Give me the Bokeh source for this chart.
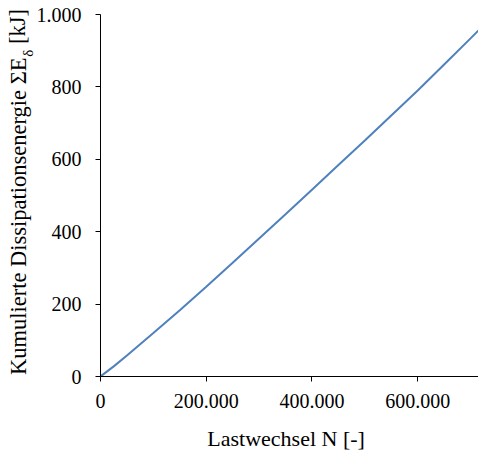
from bokeh.plotting import figure
from bokeh.models import FixedTicker, CustomJSTickFormatter, LinearAxis, ColumnDataSource
from bokeh.embed import file_html
from bokeh.resources import INLINE

# Data
lastwechsel = [0, 25000, 50000, 100000, 150000, 200000, 250000, 300000, 350000,
               400000, 450000, 500000, 550000, 600000, 650000, 700000, 715000]
energie = [0, 28, 58, 120, 183, 248, 314, 381, 448,
           516, 584, 652, 721, 790, 862, 934, 956]

x_ticks = [0, 200000, 400000, 600000]
y_ticks = [0, 200, 400, 600, 800, 1000]

x_label = "Lastwechsel N [-]"
y_label_main = "Kumulierte Dissipationsenergie \u03a3E"
y_label_sub = "\u03b4"
y_label_end = "[kJ]"

FONT = "Liberation Serif"

p = figure(width=478, height=457, x_range=(0, 715000), y_range=(0, 1000),
           output_backend="svg", toolbar_location=None,
           min_border_left=100, min_border_right=0, min_border_top=14, min_border_bottom=81)

p.outline_line_color = None
p.xgrid.grid_line_color = None
p.ygrid.grid_line_color = None
p.background_fill_color = "white"
p.border_fill_color = "white"

src = ColumnDataSource(data=dict(n=lastwechsel, e=energie))
p.line("n", "e", source=src, line_color="#4F81BD", line_width=2)

fmt = CustomJSTickFormatter(code="""
return Math.round(tick).toString().replace(/\\B(?=(\\d{3})+(?!\\d))/g, '.');
""")

for ax, ticks in ((p.xaxis[0], x_ticks), (p.yaxis[0], y_ticks)):
    ax.ticker = FixedTicker(ticks=ticks)
    ax.formatter = fmt
    ax.axis_line_color = "black"
    ax.axis_line_width = 1
    ax.major_tick_line_color = "black"
    ax.major_tick_in = 0
    ax.major_tick_out = 5
    ax.minor_tick_line_color = None
    ax.major_label_text_font = FONT
    ax.major_label_text_font_size = "20px"
    ax.major_label_text_color = "black"

p.yaxis[0].major_label_standoff = 14
p.xaxis[0].major_label_standoff = 12


def text_axis(ticks, code, args, size, standoff, side, orientation):
    ax = LinearAxis(ticker=FixedTicker(ticks=ticks),
                    formatter=CustomJSTickFormatter(args=args, code=code))
    ax.axis_line_color = None
    ax.major_tick_line_color = None
    ax.minor_tick_line_color = None
    ax.major_tick_in = 0
    ax.major_tick_out = 0
    ax.major_label_orientation = orientation
    ax.major_label_standoff = standoff
    ax.major_label_text_font = FONT
    ax.major_label_text_font_size = size
    ax.major_label_text_color = "black"
    p.add_layout(ax, side)
    return ax


# x-axis title, placed as a label-only axis below the tick labels
px_x = 200000 / 105.8
x_title_pos = (285.5 - 99.8) * px_x
text_axis([x_title_pos], "return t;", dict(t=x_label), "22px", 15, "below", "horizontal")

# y-axis title with subscript: built from label-only axes (text placed at tick positions)
px_y = 1000 / 362.0
main_pos = (376 - 215.75) * px_y
sub_pos = (376 - 52.75) * px_y
end_pos = (376 - 25.9) * px_y

text_axis([sub_pos], "return sub;", dict(sub=y_label_sub), "15px", -2, "left", "parallel")
text_axis([main_pos, end_pos], "return tick < lim ? main : end;",
          dict(main=y_label_main, end=y_label_end, lim=(main_pos + end_pos) / 2),
          "22.5px", -14, "left", "parallel")

open("out.html", "w").write(file_html(p, INLINE))
